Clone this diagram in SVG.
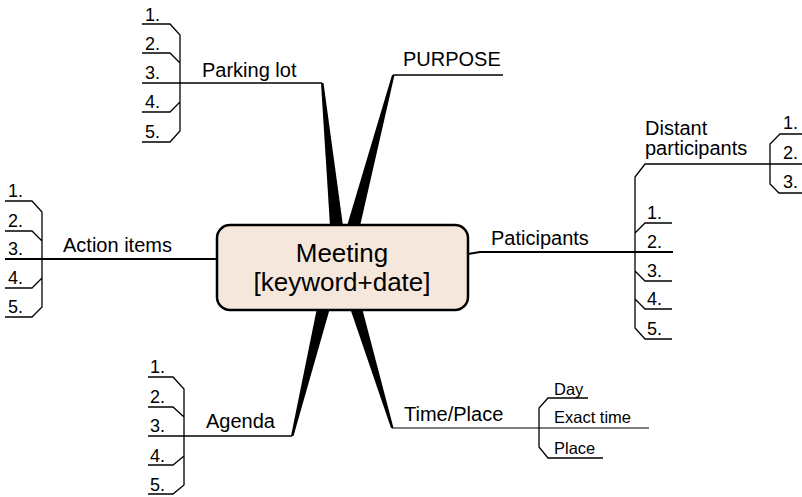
<svg xmlns="http://www.w3.org/2000/svg" width="802" height="497" viewBox="0 0 802 497">
<style>
  text { font-family: "Liberation Sans", Arial, sans-serif; fill: #000; }
  .center { font-size: 26px; text-anchor: middle; }
  .lbl { font-size: 20px; }
  .num { font-size: 18px; }
  .sm { font-size: 16.5px; }
  .ln { fill: none; stroke: #000; stroke-width: 1.5; }
  .thick { fill: none; stroke: #000; stroke-width: 2.2; }
  .thin { fill: none; stroke: #000; stroke-width: 1.1; }
  .br { fill: none; stroke: #000; stroke-width: 1.3; stroke-linejoin: miter; }
  .wedge { fill: #000; stroke: none; }
</style>
<rect x="0" y="0" width="802" height="497" fill="#fff"/>

<g id="connectors">
  <polygon class="wedge" points="321,83 323.5,83 343,226 330,226"/>
  <polygon class="wedge" points="392,75 394.5,75 360,226 347,226"/>
  <polygon class="wedge" points="317,308 330,308 293.5,436 291,436"/>
  <polygon class="wedge" points="350,308 362,308 393.5,428 391,428"/>
  <path class="ln" d="M322,83 H142"/>
  <path class="ln" d="M393,75 H503"/>
  <path class="ln" d="M292,436 H148"/>
  <path class="thin" d="M392,428 H649"/>
  <path class="thick" d="M217,259 H5"/>
  <path class="thick" d="M468,254 L480,252 H673"/>
</g>

<g id="center">
  <rect x="217" y="225" width="251" height="85" rx="13" ry="13" fill="#f6e7dd" stroke="#000" stroke-width="2.5"/>
  <text class="center" x="342" y="262">Meeting</text>
  <text class="center" x="342" y="291">[keyword+date]</text>
</g>

<g id="purpose">
  <text class="lbl" x="403" y="66">PURPOSE</text>
</g>

<g id="parking-lot">
  <text class="lbl" x="202" y="77">Parking lot</text>
  <path class="br" d="M142,24 H170 L180,35 V131 L170,142 H142 M142,53 H170 L180,63 M180,102 L170,112 H142"/>
  <text class="num" x="145" y="21">1.</text>
  <text class="num" x="145" y="50">2.</text>
  <text class="num" x="145" y="79">3.</text>
  <text class="num" x="145" y="108">4.</text>
  <text class="num" x="145" y="138">5.</text>
</g>

<g id="action-items">
  <text class="lbl" x="63" y="252">Action items</text>
  <path class="br" d="M5,201 H32 L42,212 V307 L32,317 H5 M5,231 H32 L42,241 M42,278 L32,288 H5"/>
  <text class="num" x="8" y="197">1.</text>
  <text class="num" x="8" y="227">2.</text>
  <text class="num" x="8" y="255">3.</text>
  <text class="num" x="8" y="284">4.</text>
  <text class="num" x="8" y="313">5.</text>
</g>

<g id="agenda">
  <text class="lbl" x="206" y="428">Agenda</text>
  <path class="br" d="M148,377 H173 L184,389 V485 L173,494 H148 M148,407 H173 L184,417 M184,456 L173,465 H148"/>
  <text class="num" x="150" y="373">1.</text>
  <text class="num" x="150" y="403">2.</text>
  <text class="num" x="150" y="432">3.</text>
  <text class="num" x="150" y="462">4.</text>
  <text class="num" x="150" y="491">5.</text>
</g>

<g id="participants">
  <text class="lbl" x="491" y="245">Paticipants</text>
  <path class="br" d="M802,164 H645 L635,177 V328 L645,339 H672 M672,223 H645 L635,233 M635,271 L645,281 H672 M635,299 L645,309 H672"/>
  <text class="num" x="647" y="219">1.</text>
  <text class="num" x="647" y="248">2.</text>
  <text class="num" x="647" y="277">3.</text>
  <text class="num" x="647" y="305">4.</text>
  <text class="num" x="647" y="335">5.</text>
</g>

<g id="distant-participants">
  <text class="lbl" x="645" y="135">Distant</text>
  <text class="lbl" x="645" y="155">participants</text>
  <path class="br" d="M802,134 H780 L770,144 V184 L779,193 H802"/>
  <text class="num" x="783" y="129">1.</text>
  <text class="num" x="783" y="159">2.</text>
  <text class="num" x="783" y="188">3.</text>
</g>

<g id="time-place">
  <text class="lbl" x="404" y="421">Time/Place</text>
  <path class="br" d="M588,398 H548 L539,408 V447 L548,458 H603"/>
  <text class="sm" x="554" y="395">Day</text>
  <text class="sm" x="554" y="423">Exact time</text>
  <text class="sm" x="554" y="454">Place</text>
</g>
</svg>
